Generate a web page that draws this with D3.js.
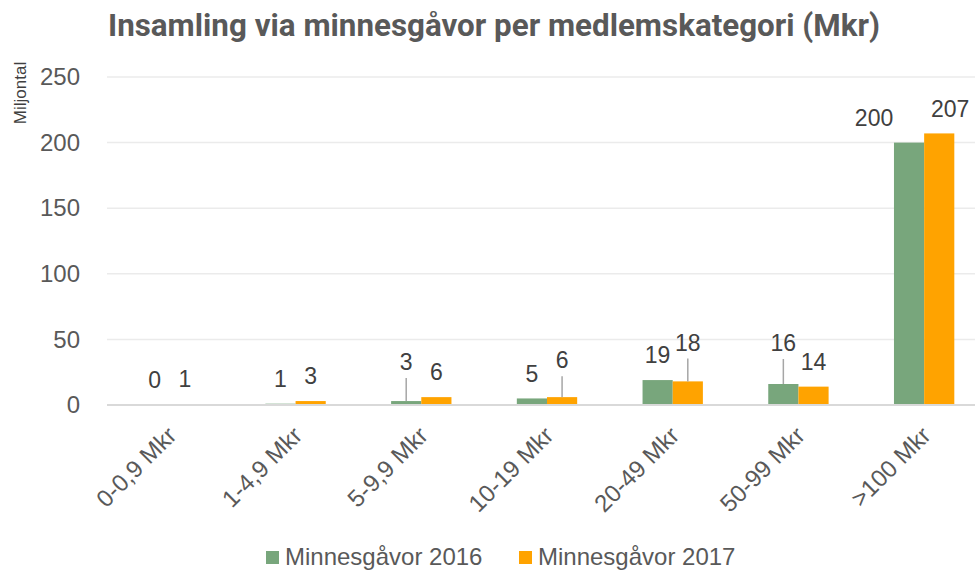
<!DOCTYPE html>
<html>
<head>
<meta charset="utf-8">
<script src="https://cdn.jsdelivr.net/npm/d3@7"></script>
<style>
  body { margin: 0; background: #fff; }
  svg { display: block; font-family: "Liberation Sans", Arial, sans-serif; }
</style>
</head>
<body>
<svg id="chart" width="975" height="572"></svg>
<script>
// THE DATA
const categories = ["0-0,9 Mkr", "1-4,9 Mkr", "5-9,9 Mkr", "10-19 Mkr", "20-49 Mkr", "50-99 Mkr", ">100 Mkr"];
const gifts2016 = [0.4, 1, 3, 5, 19, 16, 200];
const gifts2017 = [0.6, 3, 6, 6, 18, 14, 207];
const seriesNames = ["Minnesgåvor 2016", "Minnesgåvor 2017"];
const yTicks = [0, 50, 100, 150, 200, 250];

// label nudges (px) for the labels that were dragged in the original
const lift2016 = [0, 0, 14, 0, 0, 16, 0];
const lift2017 = [0, 0, 0, 12, 14, 0, 0];
const shift2016 = [0, 0, 0, 0, 0, 0, -35];
const shift2017 = [0, 0, 0, 0, 0, 0, 11];

const colors = ["#78A67C", "#FFA300"];

// SETTING UP
const svg = d3.select("#chart");
const margin = {left: 107, right: 987, top: 77, bottom: 405};

const x = d3.scaleBand()
  .domain(categories)
  .range([margin.left, margin.right])
  .paddingInner(0.52)
  .paddingOuter(0.26);

const x1 = d3.scaleBand()
  .domain([0, 1])
  .range([0, x.bandwidth()]);

const y = d3.scaleLinear()
  .domain([0, 250])
  .range([margin.bottom, margin.top]);

// title
svg.append("text")
  .attr("x", 108)
  .attr("y", 36)
  .attr("font-family", "Roboto, sans-serif")
  .attr("font-weight", 700)
  .attr("font-size", 32)
  .attr("fill", "#595959")
  .attr("textLength", 772)
  .attr("lengthAdjust", "spacingAndGlyphs")
  .text("Insamling via minnesgåvor per medlemskategori (Mkr)");

// y axis title
svg.append("text")
  .attr("transform", "translate(26,93) rotate(-90)")
  .attr("text-anchor", "middle")
  .attr("font-size", 17)
  .attr("fill", "#404040")
  .text("Miljontal");

// gridlines
svg.append("g")
  .selectAll("line")
  .data(yTicks.filter(d => d > 0))
  .join("line")
  .attr("x1", margin.left)
  .attr("x2", margin.right)
  .attr("y1", d => y(d))
  .attr("y2", d => y(d))
  .attr("stroke", "#EBEBEB")
  .attr("stroke-width", 1.5);

// y axis labels
const yAxis = svg.append("g")
  .attr("transform", `translate(80,0)`)
  .call(d3.axisLeft(y).tickValues(yTicks).tickSize(0).tickPadding(0));
yAxis.select(".domain").remove();
yAxis.selectAll("text")
  .attr("font-size", 24)
  .attr("font-family", "Liberation Sans, Arial, sans-serif")
  .attr("fill", "#595959");

// bars
const rows = categories.map((c, i) => ({cat: c, vals: [gifts2016[i], gifts2017[i]], i}));
const groups = svg.append("g")
  .selectAll("g")
  .data(rows)
  .join("g")
  .attr("transform", d => `translate(${x(d.cat)},0)`);

groups.selectAll("rect")
  .data(d => d.vals.map((v, s) => ({v, s})))
  .join("rect")
  .attr("x", d => x1(d.s))
  .attr("width", x1.bandwidth())
  .attr("y", d => y(d.v))
  .attr("height", d => y(0) - y(d.v))
  .attr("fill", d => colors[d.s]);

// x axis line
svg.append("line")
  .attr("x1", margin.left)
  .attr("x2", margin.right)
  .attr("y1", y(0))
  .attr("y2", y(0))
  .attr("stroke", "#D9D9D9")
  .attr("stroke-width", 2);

// data labels with leader lines
const lifts = [lift2016, lift2017];
const shifts = [shift2016, shift2017];
const labels = [];
rows.forEach(r => r.vals.forEach((v, s) => {
  const bx = x(r.cat) + x1(s) + x1.bandwidth() / 2;
  labels.push({v, s, bx, top: y(v), lift: lifts[s][r.i], dx: shifts[s][r.i]});
}));

svg.append("g")
  .selectAll("line")
  .data(labels.filter(d => d.lift > 0))
  .join("line")
  .attr("x1", d => d.bx)
  .attr("x2", d => d.bx)
  .attr("y1", d => d.top - 25 - d.lift + 16)
  .attr("y2", d => d.top)
  .attr("stroke", "#A6A6A6")
  .attr("stroke-width", 1.5);

svg.append("g")
  .selectAll("text")
  .data(labels)
  .join("text")
  .attr("x", d => d.bx + d.dx)
  .attr("y", d => d.top - 25 - d.lift)
  .attr("dy", "0.36em")
  .attr("text-anchor", "middle")
  .attr("font-size", 23)
  .attr("fill", "#404040")
  .text(d => d3.format(".0f")(d.v));

// category labels
svg.append("g")
  .selectAll("text")
  .data(categories)
  .join("text")
  .attr("transform", d => `translate(${x(d) + x.bandwidth() / 2 + 8},437) rotate(-45)`)
  .attr("text-anchor", "end")
  .attr("font-size", 24)
  .attr("fill", "#595959")
  .text(d => d);

// legend
const legend = svg.append("g")
  .selectAll("g")
  .data(seriesNames)
  .join("g")
  .attr("transform", (d, i) => `translate(${266 + i * 253},551)`);
legend.append("rect")
  .attr("width", 13)
  .attr("height", 13)
  .attr("fill", (d, i) => colors[i]);
legend.append("text")
  .attr("x", 19)
  .attr("y", 14)
  .attr("font-size", 24)
  .attr("fill", "#595959")
  .text(d => d);
</script>
</body>
</html>
